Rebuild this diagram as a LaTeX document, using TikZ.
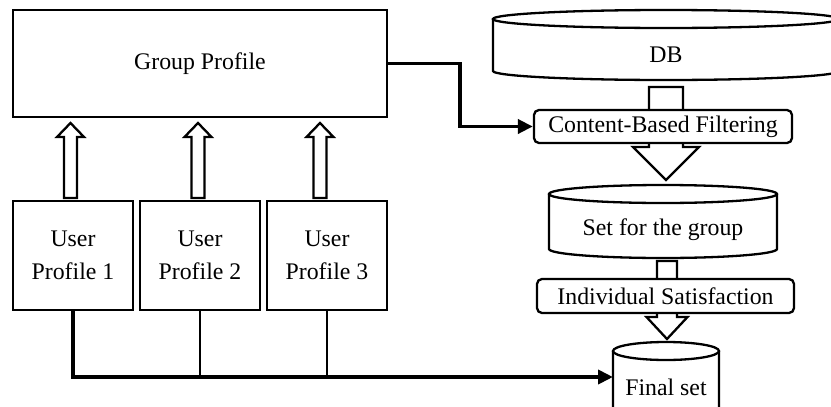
\documentclass[tikz,border=0pt]{standalone}
\usepackage{fontspec}
\setmainfont{Liberation Serif}
\usetikzlibrary{arrows.meta}
\begin{document}
\begin{tikzpicture}[x=1pt,y=-1pt,
  box/.style={draw, line width=2.3pt, inner sep=0pt, fill=white, align=center,
    font=\fontsize{23.8}{33}\selectfont},
  rbox/.style={box, rounded corners=5pt},
  lbl/.style={inner sep=0pt, font=\fontsize{23.8}{33}\selectfont},
  thin conn/.style={line width=2.2pt},
  thick conn/.style={line width=3.8pt},
  tip/.style={-{Triangle[length=15pt,width=14pt]}},
  blockarrow/.style={draw, line width=2.3pt, fill=white, line join=miter},
  cyl/.style={draw, line width=2.3pt, fill=white}
]
\useasboundingbox (0,0) rectangle (831,407);
\clip (0,0) rectangle (831,407);

% Group profile and user profiles
\node[box, minimum width=374pt, minimum height=107pt] (gp) at (200,63.5) {Group Profile};
\node[box, minimum width=120pt, minimum height=109pt] (u1) at (73,255.5) {User\\Profile 1};
\node[box, minimum width=120pt, minimum height=109pt] (u2) at (200,255.5) {User\\Profile 2};
\node[box, minimum width=120pt, minimum height=109pt] (u3) at (327,255.5) {User\\Profile 3};

% upward block arrows
\foreach \cx in {70.5,198,320}{
  \path[blockarrow] (\cx-6.5,198) -- (\cx-6.5,137) -- (\cx-13.5,137) -- (\cx,123)
    -- (\cx+13.5,137) -- (\cx+6.5,137) -- (\cx+6.5,198) -- cycle;
}

% DB cylinder
\path[cyl] (493,19) -- (493,71) arc[start angle=180, end angle=0, x radius=173, y radius=9] -- (839,19);
\draw[line width=2.3pt] (666,19) ellipse [x radius=173, y radius=9];
\node[lbl] (db) at (666,55) {DB};

% block arrow DB -> filtering
\path[blockarrow] (649,87) -- (649,147) -- (633,147) -- (666,180) -- (699,147)
  -- (683,147) -- (683,87) -- cycle;

% Set for the group cylinder
\path[cyl] (549,194) -- (549,249) arc[start angle=180, end angle=0, x radius=114, y radius=9] -- (777,194);
\draw[line width=2.3pt] (663,194) ellipse [x radius=114, y radius=9];
\node[lbl] (set) at (663,230) {Set for the group};

% block arrow set -> final
\path[blockarrow] (657,261) -- (657,317) -- (646.5,317) -- (667,339) -- (687.5,317)
  -- (677,317) -- (677,261) -- cycle;

% Final set cylinder
\path[cyl] (613,351) -- (613,420) arc[start angle=180, end angle=0, x radius=53, y radius=9] -- (719,351);
\draw[line width=2.3pt] (666,351) ellipse [x radius=53, y radius=9];
\node[lbl] (fin) at (666,387) {Final set};
\coordinate (finL) at (613,377);

% process boxes
\node[rbox, minimum width=258pt, minimum height=33pt] (cbf) at (663,126.5) {Content-Based Filtering};
\node[rbox, minimum width=257pt, minimum height=34pt] (is) at (665.5,296) {Individual Satisfaction};

% connectors
\draw[thick conn, tip] (gp.east) -- (460,63.5) |- (cbf.west);
\draw[thick conn, tip] (u1.south) |- (finL);
\draw[thin conn] (u2.south) -- (u2.south |- finL);
\draw[thin conn] (u3.south) -- (u3.south |- finL);
\end{tikzpicture}
\end{document}
